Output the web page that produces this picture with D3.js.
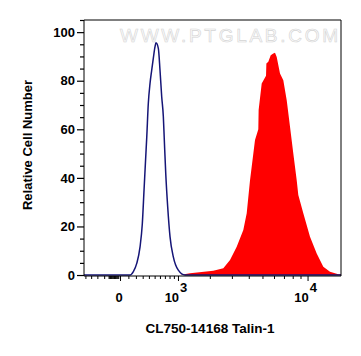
<!DOCTYPE html>
<html><head><meta charset="utf-8">
<script src="https://cdn.jsdelivr.net/npm/d3@7"></script>
<style>
html,body{margin:0;padding:0;background:#fff;}
svg{display:block;font-family:"Liberation Sans",Arial,sans-serif;}
</style></head>
<body><svg id="c" width="361" height="356"></svg>
<script>
// ---- data (fluorescence intensity, relative count) ----
const controlIntensity = [-526,100,121,165,212,260,294,321,348,364,390,419,448,476,507,525,569,601,635,668,688,718,760,811,887,1008,1185,16320];
const controlCount     = [0,0,0,1.4,4.8,11.6,21,35,48.7,56.5,70.6,78.9,84.4,89.2,94,95.6,93.3,84.4,73.4,65.2,55.6,41.8,28,15.8,7.5,2,0,0];
const sampleIntensity  = [1052,1328,2139,2576,2904,3263,3651,3865,4083,4431,4676,4700,4938,5290,5320,5486,5697,5934,6094,6258,6586,6931,7302,7679,8074,8499,8706,9385,10370,11450,12617,13914,15696,16320];
const sampleCount      = [0,0.7,1.8,2.8,6.2,11.6,18.5,25.4,39,55.6,60,67.9,78.9,82,87.1,87.8,90.5,91.2,91.5,89.8,83,80.2,72,61,50,39,33,25.4,15.8,8.9,3.4,1.4,0.3,0.3];
const yMajorTicks = [0,20,40,60,80,100];
const yMinorTicks = [5,10,15,25,30,35,45,50,55,65,70,75,85,90,95,105];
const xMajorTicks = [0,1000,10000];
const xMajorLabels = [["0",""],["10","3"],["10","4"]];
const xMinorTicks = [-500,-400,-300,-200,-140,-130,-120,-110,-100,-90,-80,-70,-60,-50,-40,-30,-20,
  100,200,300,400,500,600,700,800,900,2000,3000,4000,5000,6000,7000,8000,9000];
const xTitle = "CL750-14168 Talin-1";
const yTitle = "Relative Cell Number";
const watermark = "WWW.PTGLAB.COM";

const L=84,R=341,T=20,B=276;
const svg=d3.select("#c");
const x=d3.scaleSymlog().constant(820).domain([-526,16320]).range([L,R]);
const y=d3.scaleLinear().domain([-0.4,105]).range([B,T]);

// watermark
svg.append("text").attr("x",120).attr("y",42)
  .attr("font-size",19).attr("textLength",218).attr("lengthAdjust","spacing")
  .attr("fill","#fbfbfb").attr("stroke","#d4d4d4").attr("stroke-width",0.6)
  .text(watermark);

const sample=sampleIntensity.map((v,i)=>[v,sampleCount[i]]);
const control=controlIntensity.map((v,i)=>[v,controlCount[i]]);

svg.append("path").datum(sample)
  .attr("d",d3.area().x(d=>x(d[0])).y0(y(0)).y1(d=>y(d[1])))
  .attr("fill","#ff0000");
svg.append("path").datum(control)
  .attr("d",d3.line().x(d=>x(d[0])).y(d=>y(d[1])).curve(d3.curveMonotoneX))
  .attr("fill","none").attr("stroke","#151577").attr("stroke-width",1.5);

// frame top/right
svg.append("path").attr("d",`M${L},${T}H${R}V${B}`).attr("fill","none").attr("stroke","#000").attr("stroke-width",1);

// y axis
const gy=svg.append("g").attr("transform",`translate(${L},0)`);
gy.call(d3.axisLeft(y).tickValues(yMinorTicks).tickSize(4).tickFormat(""));
gy.call(g=>g.select(".domain").remove());
const gy2=svg.append("g").attr("transform",`translate(${L},0)`);
gy2.call(d3.axisLeft(y).tickValues(yMajorTicks).tickSize(7).tickPadding(2));
gy2.select(".domain").attr("d",`M0,${T}V${B}`);
gy2.selectAll("text").attr("font-size",13).attr("font-weight","bold").attr("fill","#000").attr("font-family","Liberation Sans, Arial, sans-serif");
svg.selectAll(".tick line").attr("stroke","#000").attr("stroke-width",1.2);

// x axis
const gx=svg.append("g").attr("transform",`translate(0,${B})`);
gx.call(d3.axisBottom(x).tickValues(xMinorTicks).tickSize(3).tickFormat(""));
gx.select(".domain").remove();
const gx2=svg.append("g").attr("transform",`translate(0,${B})`);
gx2.call(d3.axisBottom(x).tickValues(xMajorTicks).tickSize(5).tickFormat(""));
gx2.select(".domain").attr("d",`M${L},0H${R}`);
svg.selectAll(".tick line").attr("stroke","#000");

xMajorTicks.forEach((v,i)=>{
  const t=svg.append("text").attr("x",x(v)+(i===0?-1:-2)).attr("y",302).attr("text-anchor","middle")
    .attr("font-size",13).attr("font-weight","bold").attr("fill","#000");
  t.append("tspan").text(xMajorLabels[i][0]);
  if(xMajorLabels[i][1]) t.append("tspan").attr("dy",-10).attr("dx",1).attr("font-size",13).text(xMajorLabels[i][1]);
});

// titles
svg.append("text").attr("x",210).attr("y",333).attr("text-anchor","middle")
  .attr("font-size",13.5).attr("font-weight","bold").text(xTitle);
svg.append("text").attr("transform","translate(32,145) rotate(-90)").attr("text-anchor","middle")
  .attr("font-size",13).attr("font-weight","bold").text(yTitle);
</script></body></html>
